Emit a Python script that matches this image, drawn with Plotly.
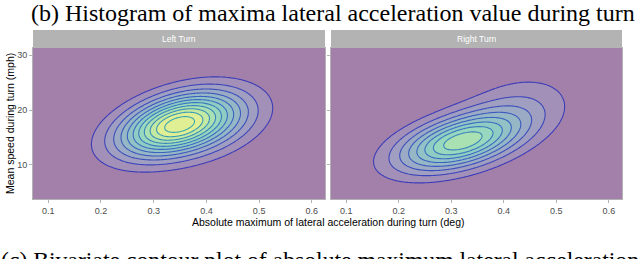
import numpy as np
import plotly.graph_objects as go
from plotly.colors import sample_colorscale

# ---- data ----
panel_names = ["Left Turn", "Right Turn"]
x_ticks = [0.1, 0.2, 0.3, 0.4, 0.5, 0.6]
y_ticks = [10, 20, 30]

# bivariate density modelled as a sum of gaussian bumps, parameters
left_cx = [0.345, 0.43]
left_cy = [17.4, 16.5]
left_sx = [0.074, 0.068]
left_sy = [3.9, 4.0]
left_rho = [0.42, 0.45]
left_h = [11.35, 1.3]

right_cx = [0.318, 0.43]
right_cy = [14.2, 21.0]
right_sx = [0.08, 0.072]
right_sy = [3.6, 4.1]
right_rho = [0.48, 0.25]
right_h = [8.6, 1.5]

levels_start, levels_end, levels_size = 1, 11, 1

x_range = [0.071, 0.625]
y_range = [3.8, 31.3]


def density(X, Y, cx, cy, sx, sy, rho, h):
    Z = np.zeros_like(X)
    for a, b, s, t, r, w in zip(cx, cy, sx, sy, rho, h):
        dx = (X - a) / s
        dy = (Y - b) / t
        q = (dx ** 2 - 2 * r * dx * dy + dy ** 2) / (1 - r ** 2)
        Z += w * np.exp(-q / 2)
    return Z


gx = np.linspace(x_range[0], x_range[1], 220)
gy = np.linspace(y_range[0], y_range[1], 220)
GX, GY = np.meshgrid(gx, gy)
Z_left = density(GX, GY, left_cx, left_cy, left_sx, left_sy, left_rho, left_h)
Z_right = density(GX, GY, right_cx, right_cy, right_sx, right_sy, right_rho, right_h)

# discrete fill scale: viridis at alpha 0.5 over white, one colour per band
n_bands = 12
vir = sample_colorscale("Viridis", [i / (n_bands - 1) for i in range(n_bands)], colortype="tuple")
band_cols = []
for c in vir:
    r, g, b = [0.5 * v * 255 + 0.5 * 255 if v <= 1 else 0.5 * v + 127.5 for v in c]
    band_cols.append(f"rgb({r:.0f},{g:.0f},{b:.0f})")
nc = levels_end - levels_start + 1
fill_scale = []
for i, col in enumerate(band_cols):
    lo = i / nc
    hi = min((i + 1) / nc, 1.0)
    fill_scale.append([lo, col])
    fill_scale.append([hi, col])
    if hi >= 1:
        break

line_scale = [[0, "#3c3cb8"], [0.5, "#3a6cc2"], [1, "#3aa6b2"]]

fig = go.Figure()
for k, Z in enumerate([Z_left, Z_right]):
    xa = "x" if k == 0 else "x2"
    ya = "y" if k == 0 else "y2"
    fig.add_trace(go.Contour(
        x=gx, y=gy, z=Z, xaxis=xa, yaxis=ya,
        autocontour=False,
        contours=dict(start=levels_start, end=levels_end, size=levels_size, coloring="fill", showlines=False),
        colorscale=fill_scale, showscale=False, line=dict(width=0, smoothing=1.0),
        hoverinfo="skip",
    ))
    fig.add_trace(go.Contour(
        x=gx, y=gy, z=Z, xaxis=xa, yaxis=ya,
        autocontour=False,
        contours=dict(start=levels_start, end=levels_end, size=levels_size, coloring="lines"),
        colorscale=line_scale, showscale=False, line=dict(width=1.1, smoothing=1.0),
        hoverinfo="skip",
    ))

W, H = 640, 259
px = lambda v: v / W
py = lambda v: 1 - v / H

panel_x = [(33, 325), (331, 622)]
panel_top, panel_bot = 48, 199
strip_top = 30

axis_common = dict(
    showline=True, mirror=True, linecolor="#B3B3B3", linewidth=1,
    ticks="outside", ticklen=3, tickcolor="#B3B3B3", tickwidth=1,
    tickfont=dict(family="Liberation Sans, Arial, sans-serif", size=9, color="#4D4D4D"),
    showgrid=True, gridcolor="rgba(0,0,0,0.09)", gridwidth=1,
    layer="above traces", zeroline=False, automargin=False,
)

layout_axes = {}
for k, (x0, x1) in enumerate(panel_x):
    sx = "" if k == 0 else "2"
    layout_axes[f"xaxis{sx}"] = dict(
        axis_common, domain=[px(x0), px(x1)], range=x_range,
        tickvals=x_ticks, ticktext=[f"{v:.1f}" for v in x_ticks],
        minor=dict(tickvals=[0.15, 0.25, 0.35, 0.45, 0.55], showgrid=True,
                   gridcolor="rgba(0,0,0,0.07)", gridwidth=0.6, ticks=""),
        anchor="y" if k == 0 else "y2",
    )
    layout_axes[f"yaxis{sx}"] = dict(
        axis_common, domain=[py(panel_bot), py(panel_top)], range=y_range,
        tickvals=y_ticks, showticklabels=(k == 0),
        minor=dict(tickvals=[5, 15, 25], showgrid=True,
                   gridcolor="rgba(0,0,0,0.07)", gridwidth=0.6, ticks=""),
        anchor="x" if k == 0 else "x2",
    )

shapes = []
annotations = []
for k, (x0, x1) in enumerate(panel_x):
    shapes.append(dict(type="rect", xref="paper", yref="paper",
                       x0=px(x0), x1=px(x1), y0=py(panel_top), y1=py(strip_top),
                       fillcolor="#B3B3B3", line=dict(width=0), layer="above"))
    annotations.append(dict(text=panel_names[k], xref="paper", yref="paper",
                            x=px((x0 + x1) / 2), y=py((strip_top + panel_top) / 2),
                            showarrow=False, xanchor="center", yanchor="middle",
                            font=dict(family="Liberation Sans, Arial, sans-serif", size=8.5, color="white")))

annotations.append(dict(text="Absolute maximum of lateral acceleration during turn (deg)",
                        xref="paper", yref="paper", x=px(328), y=py(222),
                        showarrow=False, xanchor="center", yanchor="middle",
                        font=dict(family="Liberation Sans, Arial, sans-serif", size=10.5, color="black")))
annotations.append(dict(text="Mean speed during turn (mph)", textangle=-90,
                        xref="paper", yref="paper", x=px(10), y=py(124),
                        showarrow=False, xanchor="center", yanchor="middle",
                        font=dict(family="Liberation Sans, Arial, sans-serif", size=10.5, color="black")))
annotations.append(dict(text="(b) Histogram of maxima lateral acceleration value during turn",
                        xref="paper", yref="paper", x=px(333), y=py(13),
                        showarrow=False, xanchor="center", yanchor="middle",
                        font=dict(family="Liberation Serif, Times New Roman, serif", size=24, color="black")))
annotations.append(dict(text="(c) Bivariate contour plot of absolute maximum lateral acceleration",
                        xref="paper", yref="paper", x=px(-1), y=py(259.5),
                        showarrow=False, xanchor="left", yanchor="middle",
                        font=dict(family="Liberation Serif, Times New Roman, serif", size=23.7, color="black")))

fig.update_layout(
    width=W, height=H, margin=dict(l=0, r=0, t=0, b=0, autoexpand=False),
    paper_bgcolor="white", plot_bgcolor="white",
    showlegend=False, shapes=shapes, annotations=annotations,
    **layout_axes,
)

fig.write_html("out.html", config={"displayModeBar": False},
               post_script="document.body.style.margin='0';document.body.style.padding='0';document.body.style.overflow='hidden';")
